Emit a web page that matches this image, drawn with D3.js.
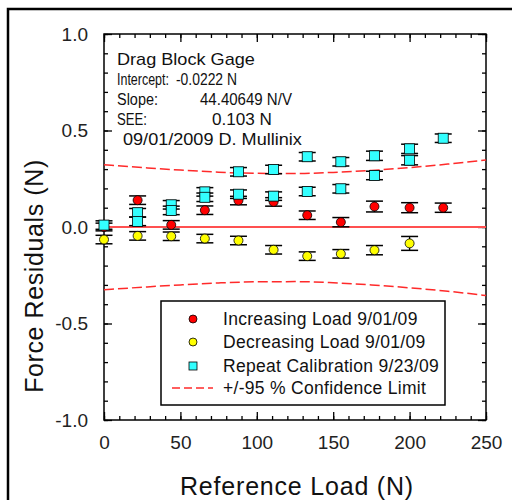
<!DOCTYPE html>
<html>
<head>
<meta charset="utf-8">
<script src="https://cdn.jsdelivr.net/npm/d3@7"></script>
<style>
  body { margin: 0; background: white; }
  text { font-family: "Liberation Sans", Arial, sans-serif; }
</style>
</head>
<body>
<script>
// DATA
var incLoad = [0, 22, 44, 66, 88, 111, 133, 155, 177, 200, 222];
var incRes  = [0.0, 0.139, 0.011, 0.087, 0.137, 0.13, 0.061, 0.025, 0.106, 0.1, 0.1];
var incErr  = [0.02, 0.022, 0.022, 0.022, 0.022, 0.022, 0.022, 0.024, 0.028, 0.026, 0.024];

var decLoad = [0, 22, 44, 66, 88, 111, 133, 155, 177, 200];
var decRes  = [-0.065, -0.046, -0.048, -0.06, -0.07, -0.118, -0.151, -0.139, -0.12, -0.085];
var decErr  = [0.022, 0.022, 0.022, 0.022, 0.022, 0.022, 0.022, 0.022, 0.024, 0.036];

var repLoad = [0, 22, 22, 44, 44, 66, 66, 88, 88, 111, 111, 133, 133, 155, 155, 177, 177, 200, 200, 222];
var repRes  = [0.01, 0.074, 0.029, 0.115, 0.086, 0.182, 0.154, 0.286, 0.17, 0.298, 0.16, 0.364, 0.184, 0.338, 0.198, 0.369, 0.267, 0.405, 0.346, 0.46];
var repErr  = [0.022, 0.022, 0.022, 0.022, 0.022, 0.022, 0.022, 0.022, 0.022, 0.022, 0.022, 0.022, 0.022, 0.022, 0.022, 0.024, 0.022, 0.024, 0.024, 0.022];

var ciLoad  = [0, 25, 50, 75, 100, 125, 150, 175, 200, 225, 250];
var ciUpper = [0.322, 0.308, 0.295, 0.284, 0.278, 0.277, 0.283, 0.293, 0.308, 0.326, 0.347];
var ciLower = [-0.325, -0.312, -0.3, -0.29, -0.284, -0.283, -0.289, -0.3, -0.315, -0.333, -0.355];

var noteLabels = ["Drag Block Gage", "Intercept:", "Slope:", "SEE:", "09/01/2009 D. Mullinix"];
var noteValues = ["", "-0.0222 N", "44.40649 N/V", "0.103 N", ""];
var legendLabels = ["Increasing Load 9/01/09", "Decreasing Load 9/01/09", "Repeat Calibration 9/23/09", "+/-95 % Confidence Limit"];

var w = 512, h = 500;
var pLeft = 104, pRight = 486, pTop = 34, pBottom = 420;

var svg = d3.select("body").append("svg")
  .attr("width", w)
  .attr("height", h);

// outer frame (page border)
svg.append("rect")
  .attr("x", 8).attr("y", 9)
  .attr("width", 600).attr("height", 600)
  .attr("fill", "none").attr("stroke", "black").attr("stroke-width", 2.5);

// SCALES
var x = d3.scaleLinear().domain([0, 250]).range([pLeft, pRight]);
var y = d3.scaleLinear().domain([-1, 1]).range([pBottom, pTop]);

// AXES - major every 50 / 0.5, minor every 10 / 0.1, all ticks inward
var xMajor = d3.range(0, 251, 50);
var xMinor = d3.range(0, 251, 10);
var yMajor = [-1, -0.5, 0, 0.5, 1];
var yMinor = d3.range(-10, 11).map(function(d){ return d / 10; });
var yFmt = function(d){ return d.toFixed(1); }; // plain hyphen minus like the original

function styleAxis(g){
  g.selectAll("path").remove();
  g.selectAll("line").attr("stroke", "black").attr("stroke-width", 1.3);
}

svg.append("g").attr("transform", "translate(0," + pBottom + ")")
  .call(d3.axisBottom(x).tickValues(xMinor).tickSize(-4).tickFormat(""))
  .call(styleAxis);
svg.append("g").attr("transform", "translate(0," + pBottom + ")")
  .call(d3.axisBottom(x).tickValues(xMajor).tickSize(-8).tickPadding(16).tickFormat(d3.format("d")))
  .call(styleAxis)
  .selectAll("text").attr("font-size", 19).attr("fill", "#222");
svg.append("g").attr("transform", "translate(0," + pTop + ")")
  .call(d3.axisTop(x).tickValues(xMinor).tickSize(-4).tickFormat(""))
  .call(styleAxis);
svg.append("g").attr("transform", "translate(0," + pTop + ")")
  .call(d3.axisTop(x).tickValues(xMajor).tickSize(-8).tickFormat(""))
  .call(styleAxis);

svg.append("g").attr("transform", "translate(" + pLeft + ",0)")
  .call(d3.axisLeft(y).tickValues(yMinor).tickSize(-4).tickFormat(""))
  .call(styleAxis);
svg.append("g").attr("transform", "translate(" + pLeft + ",0)")
  .call(d3.axisLeft(y).tickValues(yMajor).tickSize(-8).tickPadding(16).tickFormat(yFmt))
  .call(styleAxis)
  .selectAll("text").attr("font-size", 19).attr("fill", "#222");
svg.append("g").attr("transform", "translate(" + pRight + ",0)")
  .call(d3.axisRight(y).tickValues(yMinor).tickSize(-4).tickFormat(""))
  .call(styleAxis);
svg.append("g").attr("transform", "translate(" + pRight + ",0)")
  .call(d3.axisRight(y).tickValues(yMajor).tickSize(-8).tickFormat(""))
  .call(styleAxis);

// plot box
svg.append("rect")
  .attr("x", pLeft).attr("y", pTop)
  .attr("width", pRight - pLeft).attr("height", pBottom - pTop)
  .attr("fill", "none").attr("stroke", "black").attr("stroke-width", 1.5);

// axis titles
svg.append("text")
  .attr("x", 297).attr("y", 495)
  .attr("text-anchor", "middle").attr("font-size", 25).attr("letter-spacing", 0.8).attr("fill", "#111")
  .text("Reference Load (N)");
svg.append("text")
  .attr("transform", "translate(43,276) rotate(-90)")
  .attr("text-anchor", "middle").attr("font-size", 25).attr("letter-spacing", 0.6).attr("fill", "#111")
  .text("Force Residuals (N)");

// zero line
svg.append("line")
  .attr("x1", pLeft).attr("x2", pRight)
  .attr("y1", y(0)).attr("y2", y(0))
  .attr("stroke", "#ff5050").attr("stroke-width", 1.8);

// confidence limits
var ciLine = d3.line()
  .x(function(d){ return x(d[0]); })
  .y(function(d){ return y(d[1]); })
  .curve(d3.curveMonotoneX);
[ciUpper, ciLower].forEach(function(vals){
  svg.append("path")
    .datum(ciLoad.map(function(l, i){ return [l, vals[i]]; }))
    .attr("d", ciLine)
    .attr("fill", "none").attr("stroke", "#ff2a2a").attr("stroke-width", 1.5)
    .attr("stroke-dasharray", "10,4");
});

// error bars
function errorBars(loads, vals, errs){
  var g = svg.append("g");
  var pts = g.selectAll("g").data(loads).join("g");
  pts.append("line")
    .attr("x1", function(d){ return x(d); }).attr("x2", function(d){ return x(d); })
    .attr("y1", function(d, i){ return y(vals[i] + errs[i]); })
    .attr("y2", function(d, i){ return y(vals[i] - errs[i]); })
    .attr("stroke", "black").attr("stroke-width", 1.3);
  [1, -1].forEach(function(s){
    pts.append("line")
      .attr("x1", function(d){ return x(d) - 8.5; }).attr("x2", function(d){ return x(d) + 8.5; })
      .attr("y1", function(d, i){ return y(vals[i] + s * errs[i]); })
      .attr("y2", function(d, i){ return y(vals[i] + s * errs[i]); })
      .attr("stroke", "black").attr("stroke-width", 1.5);
  });
}
errorBars(incLoad, incRes, incErr);
errorBars(decLoad, decRes, decErr);
errorBars(repLoad, repRes, repErr);

// markers
svg.append("g").selectAll("circle").data(incLoad).join("circle")
  .attr("cx", function(d){ return x(d); })
  .attr("cy", function(d, i){ return y(incRes[i]); })
  .attr("r", 4.5).attr("fill", "#ff0000").attr("stroke", "black").attr("stroke-width", 0.8);
svg.append("g").selectAll("circle").data(decLoad).join("circle")
  .attr("cx", function(d){ return x(d); })
  .attr("cy", function(d, i){ return y(decRes[i]); })
  .attr("r", 4.5).attr("fill", "#ffff00").attr("stroke", "black").attr("stroke-width", 0.8);
svg.append("g").selectAll("rect").data(repLoad).join("rect")
  .attr("x", function(d){ return x(d) - 5; })
  .attr("y", function(d, i){ return y(repRes[i]) - 5; })
  .attr("width", 10).attr("height", 10)
  .attr("fill", "#33ffff").attr("stroke", "black").attr("stroke-width", 0.8);

// annotation block - each piece scaled horizontally to the width it has in the original
var note = svg.append("g").attr("font-size", 16).attr("fill", "#111");
var labelX = [117, 117, 117, 117, 123];
var labelLen = [138, 52, 41, 30, 179];
var valueX = [0, 176, 200, 212, 0];
var valueLen = [0, 61, 92, 60, 0];
function fitText(t, px, py, target){
  var g = note.append("g");
  var el = g.append("text").text(t);
  var len = el.node().getComputedTextLength();
  g.attr("transform", "translate(" + px + "," + py + ") scale(" + (target / len) + ",1)");
}
noteLabels.forEach(function(t, i){
  fitText(t, labelX[i], 65 + i * 20, labelLen[i]);
  if (noteValues[i]) fitText(noteValues[i], valueX[i], 65 + i * 20, valueLen[i]);
});

// legend
var lg = svg.append("g");
lg.append("rect")
  .attr("x", 161).attr("y", 301).attr("width", 284).attr("height", 104)
  .attr("fill", "white").attr("stroke", "black").attr("stroke-width", 1.5);
var rowY = [319, 342, 366, 388];
lg.append("circle").attr("cx", 193).attr("cy", rowY[0]).attr("r", 4)
  .attr("fill", "#ff0000").attr("stroke", "black").attr("stroke-width", 0.8);
lg.append("circle").attr("cx", 193).attr("cy", rowY[1]).attr("r", 4)
  .attr("fill", "#ffff00").attr("stroke", "black").attr("stroke-width", 0.8);
lg.append("rect").attr("x", 189).attr("y", rowY[2] - 4).attr("width", 8).attr("height", 8)
  .attr("fill", "#33ffff").attr("stroke", "black").attr("stroke-width", 0.8);
lg.append("line").attr("x1", 172).attr("x2", 213).attr("y1", rowY[3]).attr("y2", rowY[3])
  .attr("stroke", "#ff2a2a").attr("stroke-width", 1.5).attr("stroke-dasharray", "8,4");
legendLabels.forEach(function(t, i){
  lg.append("text").attr("x", 223).attr("y", rowY[i] + 6)
    .attr("font-size", 17.5).attr("letter-spacing", 0.3).attr("fill", "#111").text(t);
});
</script>
</body>
</html>
